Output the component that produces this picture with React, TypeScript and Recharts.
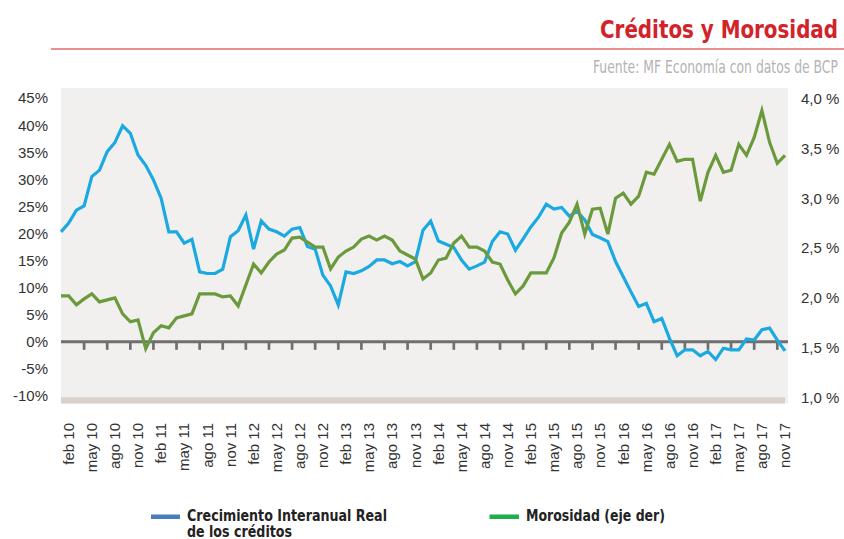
import React from 'react'
import { LineChart, Line, XAxis, YAxis, CartesianGrid, ReferenceLine, ReferenceArea } from 'recharts'

document.body.style.margin = '0'

const MONTH_NAMES = ['ene', 'feb', 'mar', 'abr', 'may', 'jun', 'jul', 'ago', 'sep', 'oct', 'nov', 'dic']
const YEARS = [10, 11, 12, 13, 14, 15, 16, 17]
// ene 10 .. nov 17
const MONTHS = YEARS.flatMap((y) => MONTH_NAMES.map((m) => `${m} ${y}`)).slice(0, 95)
const TICK_LABELS = MONTHS.filter((_, i) => i % 3 === 1)
const AXIS_MARKS = MONTHS.filter((_, i) => i > 0 && i % 3 === 0)

const LEFT_TICKS = [-10, -5, 0, 5, 10, 15, 20, 25, 30, 35, 40, 45]
const RIGHT_TICKS = [1.0, 1.5, 2.0, 2.5, 3.0, 3.5, 4.0]

// Crecimiento interanual real de los créditos (%)
const CREDITOS = [
  20.3, 21.9, 24.3, 25.1, 30.5, 31.7, 35.1, 36.8, 39.9, 38.5, 34.5, 32.6,
  29.9, 26.5, 20.3, 20.3, 18.2, 18.9, 12.9, 12.6, 12.6, 13.4, 19.4, 20.5,
  23.4, 17.1, 22.3, 20.8, 20.3, 19.5, 20.8, 21.1, 17.6, 17.1, 12.3, 10.3,
  6.8, 12.9, 12.6, 13.1, 13.9, 15.1, 15.1, 14.4, 14.8, 14.0, 14.8, 20.6,
  22.3, 18.6, 18.0, 17.4, 15.1, 13.4, 14.0, 14.7, 18.5, 20.3, 19.9, 16.9,
  19.0, 21.2, 23.0, 25.4, 24.5, 24.8, 23.2, 24.1, 22.5, 19.8, 19.2, 18.5,
  14.8, 12.0, 9.2, 6.5, 7.1, 3.7, 4.3, 0.6, -2.6, -1.5, -1.5, -2.6,
  -1.8, -3.3, -1.2, -1.5, -1.5, 0.5, 0.3, 2.2, 2.5, 0.3, -1.7,
]

// Morosidad (%), eje derecho
const MOROSIDAD = [
  2.02, 2.02, 1.93, 1.99, 2.04, 1.96, 1.98, 2.0, 1.84, 1.76, 1.78, 1.49,
  1.65, 1.72, 1.7, 1.8, 1.82, 1.84, 2.04, 2.04, 2.04, 2.01, 2.02, 1.92,
  2.13, 2.34, 2.25, 2.36, 2.44, 2.48, 2.6, 2.61, 2.56, 2.51, 2.51, 2.29,
  2.41, 2.47, 2.51, 2.59, 2.62, 2.58, 2.62, 2.58, 2.47, 2.43, 2.39, 2.19,
  2.25, 2.38, 2.4, 2.55, 2.62, 2.51, 2.51, 2.47, 2.36, 2.34, 2.18, 2.04,
  2.12, 2.25, 2.25, 2.25, 2.4, 2.65, 2.76, 2.94, 2.64, 2.89, 2.9, 2.64,
  3.0, 3.05, 2.94, 3.02, 3.26, 3.24, 3.39, 3.54, 3.37, 3.39, 3.39, 2.97,
  3.26, 3.43, 3.26, 3.28, 3.54, 3.43, 3.61, 3.88, 3.56, 3.35, 3.43,
]

const data = MONTHS.map((month, i) => ({
  month,
  creditos: CREDITOS[i],
  morosidad: MOROSIDAD[i],
}))

const FONT = "'Liberation Sans', Arial, sans-serif"
const NARROW = "'Liberation Sans Narrow', 'DejaVu Sans Condensed', 'Liberation Sans', sans-serif"
const AXIS_GRAY = '#6f6f6f'

function MonthTick({ x, y, payload }: any) {
  return (
    <g transform={`translate(${x},${y + 19.5}) rotate(-90)`}>
      <text x={0} y={0} dy="0.35em" textAnchor="end" fontSize={15} fill="#333" fontFamily={FONT}>
        {payload.value}
      </text>
    </g>
  )
}

export default function App() {
  return (
    <div style={{ position: 'relative', width: 844, height: 539, background: '#fff' }}>
      <LineChart width={844} height={539} data={data} margin={{ top: 88, right: 0, bottom: 75.5, left: 0 }}>
        <CartesianGrid yAxisId="left" horizontal={false} vertical={false} fill="#f1f0ee" stroke="none" />
        <XAxis
          dataKey="month"
          ticks={TICK_LABELS}
          interval={0}
          tick={<MonthTick />}
          axisLine={false}
          tickLine={false}
          tickSize={0}
          tickMargin={0}
          height={60}
          padding={{ left: 0, right: 3 }}
        />
        <YAxis
          yAxisId="left"
          domain={[-11.42, 46.87]}
          ticks={LEFT_TICKS}
          allowDataOverflow
          tickFormatter={(v: number) => `${v}%`}
          width={61}
          axisLine={false}
          tickLine={false}
          tickSize={0}
          tickMargin={13}
          tick={{ fontSize: 15, fill: '#333', fontFamily: FONT }}
        />
        <YAxis
          yAxisId="right"
          orientation="right"
          domain={[0.941, 4.105]}
          ticks={RIGHT_TICKS}
          allowDataOverflow
          tickFormatter={(v: number) => `${v.toFixed(1).replace('.', ',')} %`}
          width={56}
          axisLine={false}
          tickLine={false}
          tickSize={0}
          tickMargin={13}
          tick={{ fontSize: 15, fill: '#333', fontFamily: FONT }}
        />
        <ReferenceArea yAxisId="left" y1={-11.42} y2={-10.25} fill="#d9d1cb" fillOpacity={1} stroke="none" />
        <ReferenceLine yAxisId="left" y={0} stroke={AXIS_GRAY} strokeWidth={3} />
        {AXIS_MARKS.map((m) => (
          <ReferenceLine
            key={m}
            yAxisId="left"
            segment={[{ x: m, y: 0 }, { x: m, y: -1.5 }]}
            stroke={AXIS_GRAY}
            strokeWidth={2.7}
          />
        ))}
        <Line
          yAxisId="left"
          type="linear"
          dataKey="creditos"
          stroke="#1aa9e1"
          strokeWidth={3.2}
          dot={false}
          isAnimationActive={false}
        />
        <Line
          yAxisId="right"
          type="linear"
          dataKey="morosidad"
          stroke="#6b9a3c"
          strokeWidth={3.2}
          dot={false}
          isAnimationActive={false}
        />
      </LineChart>

      <svg width={844} height={539} style={{ position: 'absolute', left: 0, top: 0, pointerEvents: 'none' }}>
        <text x={838} y={38.3} textAnchor="end" fontSize={25} fontWeight="bold" fill="#d2232a" fontFamily={NARROW}
          textLength={238} lengthAdjust="spacingAndGlyphs">
          Créditos y Morosidad
        </text>
        <line x1={51} x2={844} y1={49} y2={49} stroke="#e8908f" strokeWidth={2} />
        <text x={838} y={73.3} textAnchor="end" fontSize={17} fill="#b3b3b3" fontFamily={NARROW}
          textLength={245} lengthAdjust="spacingAndGlyphs">
          Fuente: MF Economía con datos de BCP
        </text>

        <rect x={151} y={514.5} width={29} height={4.5} fill="#4a7ebb" />
        <text x={187} y={520.5} fontSize={15.5} fontWeight="bold" fill="#222" fontFamily={NARROW}
          textLength={200} lengthAdjust="spacingAndGlyphs">
          Crecimiento Interanual Real
        </text>
        <text x={187} y={536.5} fontSize={15.5} fontWeight="bold" fill="#222" fontFamily={NARROW}
          textLength={105} lengthAdjust="spacingAndGlyphs">
          de los créditos
        </text>
        <rect x={489.5} y={514.5} width={29.5} height={4.5} fill="#20ad4e" />
        <text x={526} y={520.5} fontSize={15.5} fontWeight="bold" fill="#222" fontFamily={NARROW}
          textLength={139} lengthAdjust="spacingAndGlyphs">
          Morosidad (eje der)
        </text>
      </svg>
    </div>
  )
}
